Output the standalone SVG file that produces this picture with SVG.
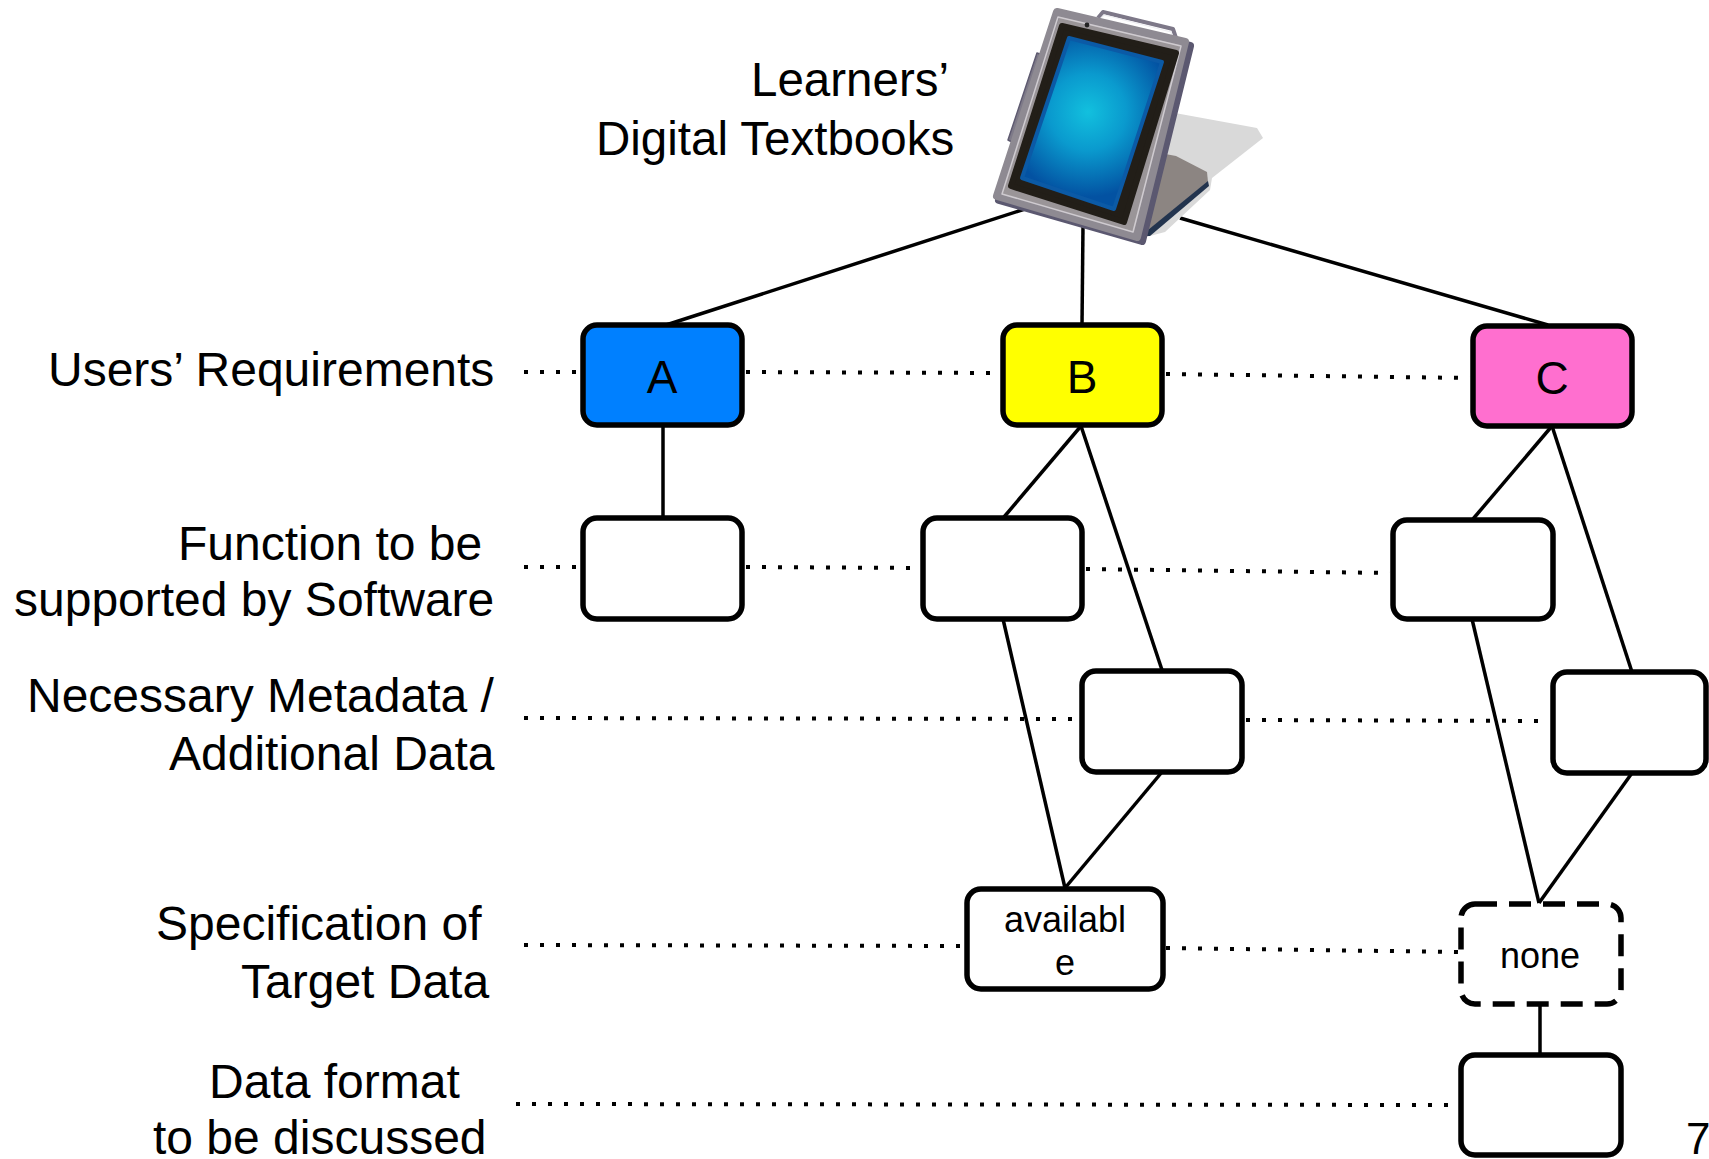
<svg xmlns="http://www.w3.org/2000/svg" width="1709" height="1159" viewBox="0 0 1709 1159">
<defs>
<radialGradient id="scr" gradientUnits="userSpaceOnUse" cx="1088" cy="112" r="85">
<stop offset="0" stop-color="#12C0DE"/>
<stop offset="0.45" stop-color="#0A9ACE"/>
<stop offset="1" stop-color="#0352A2"/>
</radialGradient>
<style>
.lbl{font-family:"Liberation Sans",Arial,sans-serif;font-size:48px;fill:#000}
.ttl{font-family:"Liberation Sans",Arial,sans-serif;font-size:47.5px;fill:#000}
.box{stroke:#000;stroke-width:5.5;fill:#fff}
.let{font-family:"Liberation Sans",Arial,sans-serif;font-size:46px;fill:#000;text-anchor:middle}
.small{font-family:"Liberation Sans",Arial,sans-serif;font-size:36px;fill:#000;text-anchor:middle}
.con{stroke:#000;stroke-width:3.5;fill:none}
.dot{stroke:#000;stroke-width:4;stroke-dasharray:4 12;fill:none}
</style>
</defs>
<rect width="1709" height="1159" fill="#fff"/>

<g id="labels">
<text class="lbl" x="48" y="386">Users’ Requirements</text>
<text class="lbl" x="178" y="560">Function to be</text>
<text class="lbl" x="14" y="616">supported by Software</text>
<text class="lbl" x="27" y="712">Necessary Metadata /</text>
<text class="lbl" x="169" y="770">Additional Data</text>
<text class="lbl" x="156" y="940">Specification of</text>
<text class="lbl" x="241" y="998">Target Data</text>
<text class="lbl" x="209" y="1098">Data format</text>
<text class="lbl" x="153" y="1154">to be discussed</text>
<text class="lbl" x="1686" y="1154" style="font-size:44px">7</text>
</g>

<g id="title">
<text class="ttl" x="751" y="96">Learners’</text>
<text class="ttl" x="596" y="155">Digital Textbooks</text>
</g>

<g id="connectors">
<g id="dotted">
<line class="dot" x1="524" y1="372" x2="580" y2="372"/>
<line class="dot" x1="746" y1="372" x2="1000" y2="373"/>
<line class="dot" x1="1166" y1="374" x2="1470" y2="378"/>
<line class="dot" x1="524" y1="567" x2="580" y2="567"/>
<line class="dot" x1="746" y1="567" x2="920" y2="568"/>
<line class="dot" x1="1086" y1="569" x2="1390" y2="573"/>
<line class="dot" x1="524" y1="718" x2="1078" y2="719"/>
<line class="dot" x1="1246" y1="720" x2="1550" y2="721"/>
<line class="dot" x1="524" y1="945" x2="964" y2="946"/>
<line class="dot" x1="1166" y1="948" x2="1458" y2="952"/>
<line class="dot" x1="516" y1="1104" x2="1458" y2="1105"/>
</g>
<line class="con" x1="1028" y1="208" x2="666" y2="325"/>
<line class="con" x1="1083" y1="226" x2="1082" y2="325"/>
<line class="con" x1="1180" y1="218" x2="1548" y2="325"/>
<line class="con" x1="663" y1="425" x2="663" y2="517"/>
<line class="con" x1="1081" y1="426" x2="1004" y2="517"/>
<line class="con" x1="1081" y1="426" x2="1162" y2="670"/>
<line class="con" x1="1003" y1="619" x2="1065" y2="888"/>
<line class="con" x1="1162" y1="772" x2="1065" y2="888"/>
<line class="con" x1="1552" y1="426" x2="1473" y2="519"/>
<line class="con" x1="1552" y1="426" x2="1632" y2="672"/>
<line class="con" x1="1472" y1="619" x2="1539" y2="903"/>
<line class="con" x1="1632" y1="773" x2="1539" y2="903"/>
<line class="con" x1="1540" y1="1005" x2="1540" y2="1055"/>
</g>

<g id="tablet">
<polygon points="1175,113 1257,128 1263,138 1212,178 1210,190 1165,232 1146,237 1150,120" fill="#D9D9D9"/>
<polygon points="1160,153 1176,156 1207,172 1208,182 1148,231 1140,232" fill="#8C8582"/>
<polygon points="1208,181 1209,186 1150,236 1143,236 1148,230" fill="#23344E"/>
<polygon points="1037,53 1043,55 1016,144 1008,140" fill="#7E7A88" stroke="#5E5A70" stroke-width="1.5" stroke-linejoin="round"/>
<line x1="1039" y1="60" x2="1014" y2="138" stroke="#D8D4DC" stroke-width="1.5"/>
<polyline points="1098,18 1103,12 1173,29 1176,38" fill="none" stroke="#7D7888" stroke-width="4" stroke-linejoin="round"/>
<polyline points="1100,19 1104,15 1171,32 1173,38" fill="none" stroke="#EEEEF2" stroke-width="1.2"/>
<polygon points="1059,14 1190,46 1142,241 999,200" fill="#5B5870" stroke="#5B5870" stroke-width="8" stroke-linejoin="round"/>
<polygon points="1057,12 1185,42 1137,237 997,196" fill="#9A9598" stroke="#8E8A92" stroke-width="8" stroke-linejoin="round"/>
<polygon points="1058,17 1181,46 1133,232 1002,194" fill="none" stroke="#CFCBD0" stroke-width="1.5" stroke-linejoin="round"/>
<polygon points="1062,26 1176,53 1124,222 1011,186" fill="#221E18" stroke="#221E18" stroke-width="6" stroke-linejoin="round"/>
<polygon points="1069,38 1162,62 1114,209 1022,178" fill="url(#scr)" stroke="#0B5AA6" stroke-width="4" stroke-linejoin="round"/>
<circle cx="1087" cy="25" r="2.4" fill="#222"/>
</g>

<g id="nodeA">
<rect class="box" x="583" y="325" width="159" height="100" rx="14" style="fill:#0080FF"/>
<text class="let" x="662" y="393">A</text>
</g>
<g id="nodeB">
<rect class="box" x="1003" y="325" width="159" height="100" rx="14" style="fill:#FFFF00"/>
<text class="let" x="1082" y="393">B</text>
</g>
<g id="nodeC">
<rect class="box" x="1473" y="326" width="159" height="100" rx="14" style="fill:#FF6FCF"/>
<text class="let" x="1552" y="394">C</text>
</g>
<g id="nodeA2"><rect class="box" x="583" y="518" width="159" height="101" rx="14"/></g>
<g id="nodeB2"><rect class="box" x="923" y="518" width="159" height="101" rx="14"/></g>
<g id="nodeC2"><rect class="box" x="1393" y="520" width="160" height="99" rx="14"/></g>
<g id="nodeB3"><rect class="box" x="1082" y="671" width="160" height="101" rx="14"/></g>
<g id="nodeC3"><rect class="box" x="1553" y="672" width="153" height="101" rx="14"/></g>
<g id="nodeAvail">
<rect class="box" x="967" y="889" width="196" height="100" rx="14"/>
<text class="small" x="1065" y="932">availabl</text>
<text class="small" x="1065" y="975">e</text>
</g>
<g id="nodeNone">
<rect class="box" x="1461" y="904" width="160" height="100" rx="14" style="stroke-dasharray:22 12"/>
<text class="small" x="1540" y="968">none</text>
</g>
<g id="nodeFormat"><rect class="box" x="1461" y="1055" width="160" height="100" rx="14"/></g>
</svg>
